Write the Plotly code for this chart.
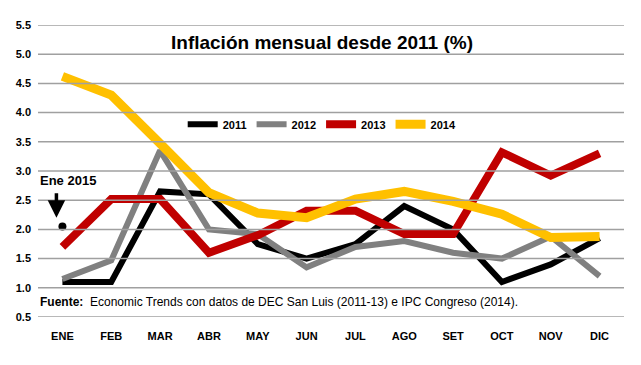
import plotly.graph_objects as go

meses = ["ENE", "FEB", "MAR", "ABR", "MAY", "JUN", "JUL", "AGO", "SET", "OCT", "NOV", "DIC"]
v2011 = [1.1, 1.1, 2.65, 2.6, 1.75, 1.5, 1.75, 2.4, 2.0, 1.1, 1.4, 1.85]
v2012 = [1.15, 1.47, 3.35, 2.0, 1.92, 1.35, 1.7, 1.8, 1.6, 1.5, 1.88, 1.2]
v2013 = [1.7, 2.52, 2.52, 1.6, 1.9, 2.32, 2.32, 1.92, 1.92, 3.32, 2.92, 3.3]
v2014 = [4.62, 4.3, 3.47, 2.63, 2.28, 2.2, 2.52, 2.65, 2.48, 2.26, 1.86, 1.88]
ene2015 = 2.05
yticks = [0.5, 1.0, 1.5, 2.0, 2.5, 3.0, 3.5, 4.0, 4.5, 5.0, 5.5]

series = [
    ("2011", v2011, "#000000", 6),
    ("2012", v2012, "#808080", 6),
    ("2013", v2013, "#C00000", 8),
    ("2014", v2014, "#FFC000", 9),
]

GRID = "#A0A0A0"

fig = go.Figure()

# gridlines drawn as a line trace on a hidden helper x axis spanning the plot width
gx, gy = [], []
for t in yticks:
    gx += [0, 1, None]
    gy += [t, t, None]
fig.add_trace(go.Scatter(x=gx, y=gy, xaxis="x2", yaxis="y", mode="lines",
                         line=dict(color=GRID, width=1.5), showlegend=False,
                         hoverinfo="skip", cliponaxis=False))
# category boundary tick marks below the bottom gridline
n = len(meses)
tx, ty = [], []
for i in range(n + 1):
    tx += [i / n, i / n, None]
    ty += [yticks[0], yticks[0] - 0.09, None]
fig.add_trace(go.Scatter(x=tx, y=ty, xaxis="x2", yaxis="y", mode="lines",
                         line=dict(color=GRID, width=1.5), showlegend=False,
                         hoverinfo="skip", cliponaxis=False))

for name, vals, color, w in series:
    fig.add_trace(go.Scatter(x=meses, y=vals, name=name, mode="lines",
                             line=dict(color=color, width=w)))

fig.add_trace(go.Scatter(x=[meses[0]], y=[ene2015], mode="markers", showlegend=False,
                         marker=dict(color="black", size=8)))

fig.add_annotation(x=meses[0], y=ene2015 + 0.15, xref="x", yref="y", text="",
                   showarrow=True, arrowhead=2, arrowsize=1, arrowwidth=3.5,
                   arrowcolor="black", ax=0, ay=-26, xshift=-6)
fig.add_annotation(x=0.0, y=0.466, xref="paper", yref="paper", xanchor="left", yanchor="middle",
                   text="<b>Ene 2015</b>", showarrow=False,
                   font=dict(family="Liberation Sans, Arial", size=13, color="black"))
fig.add_annotation(x=0.485, y=0.94, xref="paper", yref="paper", yanchor="middle",
                   text="<b>Inflación mensual desde 2011 (%)</b>", showarrow=False,
                   font=dict(family="Liberation Sans, Arial", size=19, color="black"))
fig.add_annotation(x=0.0, y=0.052, xref="paper", yref="paper", xanchor="left", yanchor="middle",
                   text="<b>Fuente:</b>  Economic Trends con datos de DEC San Luis (2011-13) e IPC Congreso (2014).",
                   showarrow=False,
                   font=dict(family="Liberation Sans, Arial", size=12, color="black"))

fig.update_layout(
    width=641, height=365,
    margin=dict(l=38, r=17, t=25, b=48, autoexpand=False),
    paper_bgcolor="white", plot_bgcolor="white",
    font=dict(family="Liberation Sans, Arial", size=11, color="black"),
    legend=dict(orientation="h", x=0.485, xanchor="center", y=0.66, yanchor="middle",
                font=dict(size=11, weight="bold"), bgcolor="rgba(0,0,0,0)",
                itemwidth=30, tracegroupgap=0),
    showlegend=True,
    xaxis=dict(type="category", showgrid=False, showline=False, ticks="",
               tickfont=dict(size=11, weight="bold"), ticklabelstandoff=11,
               range=[-0.5, 11.5], automargin=False),
    xaxis2=dict(overlaying="x", range=[0, 1], visible=False, showgrid=False,
                zeroline=False, automargin=False),
    yaxis=dict(range=[0.5, 5.5], tickvals=yticks, tickformat=".1f",
               showgrid=False, zeroline=False, ticks="", showline=False,
               tickfont=dict(size=11, weight="bold"), ticklabelstandoff=6,
               automargin=False),
)

fig.write_html(
    "out.html",
    config={"displayModeBar": False, "staticPlot": True},
    post_script="document.body.style.margin='0';document.body.style.padding='0';",
)
